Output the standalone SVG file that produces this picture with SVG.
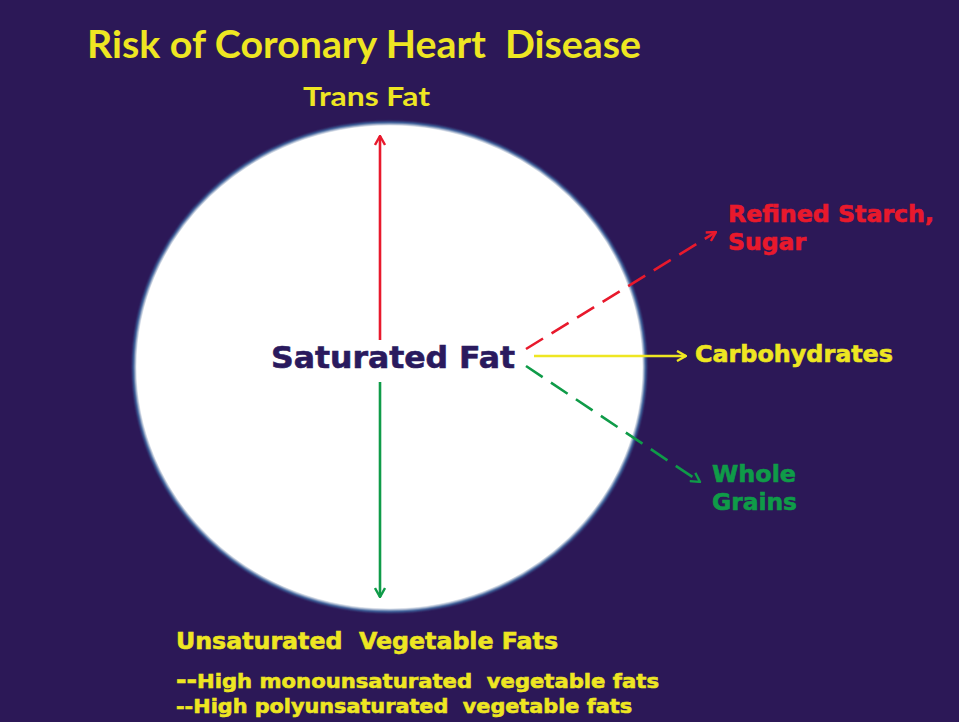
<svg xmlns="http://www.w3.org/2000/svg" width="959" height="722" viewBox="0 0 959 722">
<style>
text{white-space:pre}
.title{font-family:Lato,"Liberation Sans",Arial,sans-serif;font-weight:bold;fill:#eee622}
.lbl{font-family:"DejaVu Sans",Verdana,sans-serif;font-weight:bold;stroke-width:0.6}
.y{fill:#eee622;stroke:#eee622}
.r{fill:#e8192c;stroke:#e8192c}
.g{fill:#0f9b48;stroke:#0f9b48}
.n{fill:#2a1a5e;stroke:#2a1a5e}
.cr{stroke:#e8192c;stroke-width:2.6;fill:none}
.cy{stroke:#eee622;stroke-width:2.6;fill:none}
.cg{stroke:#0f9b48;stroke-width:2.6;fill:none}
.dash{stroke-dasharray:20 10}
</style>
<defs>
<marker id="ar" viewBox="0 0 12 12" refX="11" refY="6" markerWidth="12" markerHeight="12" markerUnits="userSpaceOnUse" orient="auto"><path d="M2,1 L11,6 L2,11" fill="none" stroke="#e8192c" stroke-width="2.4"/></marker>
<marker id="ay" viewBox="0 0 12 12" refX="11" refY="6" markerWidth="12" markerHeight="12" markerUnits="userSpaceOnUse" orient="auto"><path d="M2,1 L11,6 L2,11" fill="none" stroke="#eee622" stroke-width="2.4"/></marker>
<marker id="ag" viewBox="0 0 12 12" refX="11" refY="6" markerWidth="12" markerHeight="12" markerUnits="userSpaceOnUse" orient="auto"><path d="M2,1 L11,6 L2,11" fill="none" stroke="#0f9b48" stroke-width="2.4"/></marker>
<filter id="soft" x="-5%" y="-5%" width="110%" height="110%"><feGaussianBlur stdDeviation="0.8"/></filter>
</defs>
<rect x="0" y="0" width="959" height="722" fill="#2c1857"/>
<g id="circle">
<ellipse cx="389.5" cy="367" rx="255.5" ry="244" fill="#ffffff" stroke="#3f6fa8" stroke-width="3" filter="url(#soft)"/>
<ellipse cx="389.5" cy="367" rx="253" ry="241.5" fill="#ffffff"/>
</g>
<g id="title"><text class="title" x="87" y="58" font-size="38" textLength="554" lengthAdjust="spacingAndGlyphs">Risk of Coronary Heart  Disease</text></g>
<g id="connectors">
<line class="cr" x1="380" y1="340" x2="380" y2="136" marker-end="url(#ar)"/>
<line class="cg" x1="380" y1="382" x2="380" y2="597" marker-end="url(#ag)"/>
<line class="cr dash" x1="526" y1="349" x2="716" y2="232" marker-end="url(#ar)"/>
<line class="cy" x1="534" y1="356" x2="686" y2="356" marker-end="url(#ay)"/>
<line class="cg dash" x1="526" y1="366" x2="700" y2="482" marker-end="url(#ag)"/>
</g>
<g id="trans-fat"><text class="title" x="303" y="106" font-size="27" textLength="127" lengthAdjust="spacingAndGlyphs">Trans Fat</text></g>
<g id="saturated-fat"><text class="lbl n" x="271" y="368" font-size="30" textLength="244" lengthAdjust="spacingAndGlyphs">Saturated Fat</text></g>
<g id="refined-starch">
<text class="lbl r" x="728" y="222" font-size="23" textLength="206" lengthAdjust="spacingAndGlyphs">Refined Starch,</text>
<text class="lbl r" x="728" y="250" font-size="23" textLength="78" lengthAdjust="spacingAndGlyphs">Sugar</text>
</g>
<g id="carbohydrates"><text class="lbl y" x="695" y="362" font-size="23" textLength="198" lengthAdjust="spacingAndGlyphs">Carbohydrates</text></g>
<g id="whole-grains">
<text class="lbl g" x="712" y="482" font-size="23" textLength="84" lengthAdjust="spacingAndGlyphs">Whole</text>
<text class="lbl g" x="712" y="510" font-size="23" textLength="85" lengthAdjust="spacingAndGlyphs">Grains</text>
</g>
<g id="unsaturated">
<text class="lbl y" x="176" y="649" font-size="23" textLength="382" lengthAdjust="spacingAndGlyphs">Unsaturated  Vegetable Fats</text>
<text class="lbl y" x="176" y="688" font-size="20" textLength="483" lengthAdjust="spacingAndGlyphs"><tspan font-size="24">--</tspan>High monounsaturated  vegetable fats</text>
<text class="lbl y" x="176" y="713" font-size="20" textLength="456" lengthAdjust="spacingAndGlyphs">--High polyunsaturated  vegetable fats</text>
</g>
</svg>
